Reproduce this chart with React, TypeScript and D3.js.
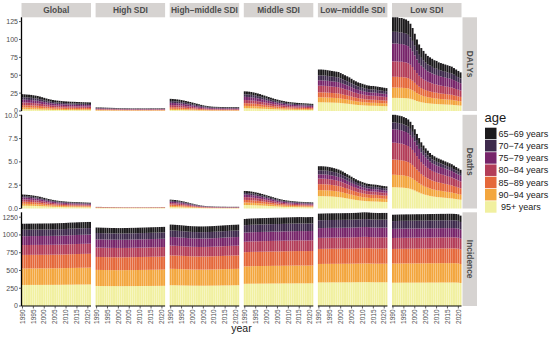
import React from 'react';
import * as d3 from 'd3';

// ---- data ----
const years = d3.range(1990, 2022);
const regions = ['Global', 'High SDI', 'High−middle SDI', 'Middle SDI', 'Low−middle SDI', 'Low SDI'];
const measures = ['DALYs', 'Deaths', 'Incidence'];
// legend order, top of stack first
const ageGroups = ['65−69 years', '70−74 years', '75−79 years', '80−84 years', '85−89 years', '90−94 years', ' 95+ years'];
const ageColors = ['#1c1a1c', '#3e2a4c', '#77256a', '#b33d58', '#e5683a', '#f3a63d', '#f1f0a0'];

// totals per year, one array per region
const dalys = [
  [23.5, 23.3, 23.0, 22.8, 22.5, 22.0, 21.5, 21.0, 20.2, 19.3, 18.4, 17.5, 16.7, 16.0, 15.4, 14.9, 14.5, 14.2, 13.9, 13.6, 13.4, 13.2, 13.0, 12.9, 12.8, 12.6, 12.5, 12.4, 12.3, 12.2, 12.1, 12.0],
  [5.0, 4.9, 4.9, 4.8, 4.7, 4.6, 4.5, 4.4, 4.3, 4.2, 4.1, 4.0, 3.9, 3.9, 3.8, 3.8, 3.7, 3.7, 3.7, 3.7, 3.7, 3.7, 3.7, 3.7, 3.7, 3.8, 3.8, 3.8, 3.8, 3.8, 3.9, 3.9],
  [17.0, 16.8, 16.5, 16.2, 15.8, 15.3, 14.7, 14.0, 13.3, 12.6, 11.8, 11.0, 10.2, 9.4, 8.6, 7.9, 7.3, 6.8, 6.4, 6.1, 5.9, 5.8, 5.7, 5.6, 5.6, 5.5, 5.5, 5.5, 5.5, 5.4, 5.4, 5.4],
  [27.5, 27.3, 27.0, 26.6, 26.0, 25.3, 24.5, 23.6, 22.6, 21.6, 20.6, 19.6, 18.6, 17.6, 16.7, 15.9, 15.1, 14.4, 13.8, 13.2, 12.7, 12.3, 12.0, 11.7, 11.4, 11.2, 11.0, 10.8, 10.6, 10.4, 10.2, 10.0],
  [58.0, 58.0, 57.8, 57.5, 57.0, 56.5, 56.0, 55.5, 55.0, 54.5, 53.0, 51.5, 50.0, 48.5, 47.0, 45.0, 43.0, 41.5, 40.0, 39.0, 38.0, 37.0, 36.0, 35.5, 35.0, 35.0, 34.5, 34.0, 33.5, 33.0, 32.5, 32.0],
  [131, 131, 131, 130, 130, 129, 128, 126, 122, 116, 108, 100, 93, 88, 84, 80, 77, 75, 73, 71, 70, 68, 67, 66, 65, 64, 63, 62, 60, 58, 56, 54],
];
const deaths = [
  [1.50, 1.49, 1.47, 1.45, 1.42, 1.39, 1.35, 1.31, 1.26, 1.20, 1.14, 1.08, 1.02, 0.97, 0.92, 0.88, 0.84, 0.81, 0.78, 0.76, 0.74, 0.72, 0.71, 0.70, 0.69, 0.68, 0.67, 0.66, 0.65, 0.64, 0.63, 0.62],
  [0.17, 0.17, 0.17, 0.16, 0.16, 0.16, 0.15, 0.15, 0.15, 0.14, 0.14, 0.14, 0.13, 0.13, 0.13, 0.13, 0.13, 0.13, 0.13, 0.13, 0.13, 0.13, 0.13, 0.13, 0.13, 0.14, 0.14, 0.14, 0.14, 0.14, 0.15, 0.15],
  [0.95, 0.93, 0.91, 0.88, 0.84, 0.80, 0.75, 0.70, 0.64, 0.58, 0.52, 0.46, 0.41, 0.36, 0.32, 0.29, 0.26, 0.24, 0.23, 0.22, 0.21, 0.20, 0.20, 0.19, 0.19, 0.19, 0.18, 0.18, 0.18, 0.18, 0.18, 0.18],
  [1.88, 1.87, 1.85, 1.82, 1.78, 1.73, 1.68, 1.62, 1.56, 1.49, 1.42, 1.35, 1.28, 1.21, 1.14, 1.07, 1.01, 0.96, 0.91, 0.87, 0.84, 0.81, 0.78, 0.76, 0.74, 0.72, 0.71, 0.70, 0.68, 0.67, 0.66, 0.65],
  [4.58, 4.58, 4.57, 4.55, 4.52, 4.48, 4.43, 4.37, 4.30, 4.22, 4.12, 4.00, 3.86, 3.72, 3.58, 3.44, 3.30, 3.17, 3.05, 2.95, 2.86, 2.78, 2.70, 2.66, 2.62, 2.60, 2.58, 2.55, 2.50, 2.46, 2.43, 2.40],
  [10.05, 10.05, 10.0, 9.95, 9.9, 9.8, 9.7, 9.55, 9.3, 8.95, 8.5, 8.0, 7.55, 7.1, 6.75, 6.45, 6.2, 5.95, 5.75, 5.6, 5.45, 5.35, 5.25, 5.15, 5.05, 4.95, 4.85, 4.75, 4.6, 4.45, 4.3, 4.15],
];
const incidence = [
  [1158, 1158, 1159, 1159, 1160, 1160, 1160, 1161, 1161, 1161, 1162, 1162, 1162, 1163, 1163, 1164, 1165, 1166, 1167, 1168, 1170, 1172, 1174, 1175, 1176, 1178, 1179, 1180, 1181, 1182, 1183, 1183],
  [1105, 1104, 1103, 1102, 1101, 1100, 1099, 1098, 1098, 1097, 1097, 1097, 1097, 1098, 1098, 1099, 1100, 1100, 1101, 1102, 1103, 1104, 1105, 1106, 1107, 1108, 1109, 1110, 1111, 1112, 1113, 1114],
  [1146, 1145, 1143, 1141, 1139, 1136, 1133, 1130, 1127, 1125, 1123, 1122, 1121, 1120, 1120, 1120, 1121, 1122, 1123, 1124, 1126, 1128, 1130, 1132, 1134, 1136, 1138, 1140, 1142, 1143, 1144, 1146],
  [1225, 1228, 1230, 1232, 1233, 1234, 1235, 1236, 1237, 1238, 1239, 1240, 1241, 1242, 1243, 1244, 1244, 1245, 1246, 1247, 1248, 1249, 1250, 1250, 1251, 1252, 1252, 1251, 1250, 1251, 1252, 1253],
  [1300, 1301, 1302, 1303, 1304, 1304, 1305, 1305, 1306, 1306, 1306, 1307, 1307, 1308, 1308, 1309, 1310, 1311, 1313, 1315, 1318, 1319, 1318, 1316, 1313, 1311, 1310, 1309, 1309, 1310, 1310, 1310],
  [1285, 1286, 1287, 1288, 1289, 1289, 1290, 1290, 1290, 1291, 1291, 1292, 1292, 1292, 1293, 1293, 1294, 1294, 1295, 1295, 1296, 1296, 1297, 1297, 1297, 1298, 1298, 1298, 1297, 1295, 1290, 1272],
];

// age shares per region, same order as ageGroups (65-69 first)
const dalysShare = [
  [0.18, 0.14, 0.17, 0.16, 0.14, 0.11, 0.10],
  [0.15, 0.12, 0.15, 0.16, 0.16, 0.14, 0.12],
  [0.18, 0.15, 0.18, 0.17, 0.14, 0.10, 0.08],
  [0.15, 0.13, 0.16, 0.16, 0.14, 0.12, 0.14],
  [0.14, 0.12, 0.13, 0.16, 0.12, 0.12, 0.21],
  [0.155, 0.125, 0.19, 0.165, 0.115, 0.11, 0.14],
];
const deathsShare = [
  [0.11, 0.10, 0.14, 0.16, 0.15, 0.14, 0.20],
  [0.03, 0.03, 0.07, 0.12, 0.20, 0.25, 0.30],
  [0.12, 0.11, 0.15, 0.17, 0.16, 0.14, 0.15],
  [0.11, 0.10, 0.14, 0.16, 0.15, 0.14, 0.20],
  [0.095, 0.095, 0.10, 0.13, 0.14, 0.14, 0.29],
  [0.082, 0.072, 0.144, 0.18, 0.162, 0.133, 0.227],
];
const incidenceShare = [
  [0.073, 0.078, 0.108, 0.12, 0.165, 0.2, 0.256],
  [0.07, 0.08, 0.105, 0.12, 0.165, 0.205, 0.255],
  [0.072, 0.08, 0.106, 0.12, 0.165, 0.202, 0.255],
  [0.072, 0.085, 0.105, 0.12, 0.163, 0.2, 0.255],
  [0.072, 0.085, 0.105, 0.12, 0.163, 0.2, 0.255],
  [0.07, 0.085, 0.10, 0.12, 0.16, 0.21, 0.255],
];

const yTickValues = [
  [0, 25, 50, 75, 100, 125],
  [0, 2.5, 5, 7.5, 10],
  [0, 250, 500, 750, 1000, 1250],
];
const yTickFormats = [d3.format('d'), d3.format('.1f'), d3.format('d')];
const xTickValues = [1990, 1995, 2000, 2005, 2010, 2015, 2020];

const totalsByMeasure = [dalys, deaths, incidence];
const sharesByMeasure = [dalysShare, deathsShare, incidenceShare];

// ---- layout ----
const W = 550, H = 338;
const panelX0 = 21.5, panelW = 69.5, colStep = 74.1;
const rowY0 = [17.3, 114.8, 212.3], panelH = 93.7;
const stripH = 14.3;
const font = "'Liberation Sans', Arial, Helvetica, sans-serif";
const stackKeys = ageGroups.slice().reverse();

const Panel = ({ r, c, y }) => {
  const x0 = panelX0 + c * colStep;
  const x = d3.scaleBand<number>().domain(years).range([x0, x0 + panelW]).paddingInner(0.1);
  const totals = totalsByMeasure[r][c];
  const share = sharesByMeasure[r][c];
  const table = years.map((yr, i) => {
    const row: any = { year: yr };
    ageGroups.forEach((a, k) => { row[a] = totals[i] * share[k]; });
    return row;
  });
  const series = d3.stack().keys(stackKeys)(table);
  return (
    <g>
      {series.map((s) => (
        <g key={s.key} fill={ageColors[ageGroups.indexOf(s.key)]}>
          {s.map((d: any) => (
            <rect key={d.data.year} x={x(d.data.year)} width={x.bandwidth()}
              y={y(d[1])} height={Math.max(0, y(d[0]) - y(d[1]))} />
          ))}
        </g>
      ))}
      {r === 2 && (
        <g>
          <line x1={x0} x2={x0 + panelW} y1={rowY0[2] + panelH} y2={rowY0[2] + panelH} stroke="#000" strokeWidth={1.1} />
          {xTickValues.map((t) => {
            const cx = (x(t) as number) + x.bandwidth() / 2;
            const by = rowY0[2] + panelH;
            return (
              <g key={t}>
                <line x1={cx} x2={cx} y1={by} y2={by + 2.5} stroke="#333" strokeWidth={0.8} />
                <text transform={`translate(${cx + 2.2},${by + 3.5}) rotate(-90)`} textAnchor="end"
                  fontSize={6.5} fill="#4d4d4d" fontFamily={font}>{t}</text>
              </g>
            );
          })}
        </g>
      )}
    </g>
  );
};

export default function App() {
  const yScales = measures.map((m, r) => {
    const max = d3.max(totalsByMeasure[r].flat()) as number;
    return d3.scaleLinear().domain([0, max]).range([rowY0[r] + panelH, rowY0[r]]);
  });

  return (
    <svg width={W} height={H} style={{ position: 'absolute', left: 0, top: 0, background: '#fff' }}>
      {/* column strips */}
      {regions.map((name, c) => {
        const x0 = panelX0 + c * colStep;
        return (
          <g key={name}>
            <rect x={x0} y={rowY0[0] - stripH} width={panelW} height={stripH} fill="#d6d3d1" />
            <text x={x0 + panelW / 2} y={rowY0[0] - stripH / 2} dy="0.35em" textAnchor="middle"
              fontSize={8.4} fontWeight="bold" fill="#4d4d4d" fontFamily={font}>{name}</text>
          </g>
        );
      })}

      {measures.map((m, r) => {
        const y = yScales[r];
        const sx = panelX0 + 5 * colStep + panelW + 1;
        return (
          <g key={m}>
            {regions.map((_, c) => <Panel key={c} r={r} c={c} y={y} />)}
            {/* row strip */}
            <rect x={sx} y={rowY0[r]} width={14.5} height={panelH} fill="#d6d3d1" />
            <text transform={`translate(${sx + 7.25},${rowY0[r] + panelH / 2}) rotate(90)`} dy="0.35em"
              textAnchor="middle" fontSize={8.4} fontWeight="bold" fill="#4d4d4d" fontFamily={font}>{m}</text>
            {/* left axis */}
            <line x1={panelX0} x2={panelX0} y1={rowY0[r]} y2={rowY0[r] + panelH} stroke="#000" strokeWidth={1.3} />
            {yTickValues[r].map((t) => (
              <g key={t}>
                <line x1={panelX0 - 2.5} x2={panelX0} y1={y(t)} y2={y(t)} stroke="#333" strokeWidth={0.8} />
                <text x={panelX0 - 3.5} y={y(t)} dy="0.35em" textAnchor="end" fontSize={7}
                  fill="#4d4d4d" fontFamily={font}>{yTickFormats[r](t)}</text>
              </g>
            ))}
          </g>
        );
      })}

      {/* x axis title */}
      <text x={panelX0 + (5 * colStep + panelW) / 2} y={331.5} textAnchor="middle" fontSize={10.5}
        fill="#1a1a1a" fontFamily={font}>year</text>

      {/* legend */}
      <g fontFamily={font}>
        <text x={484.5} y={122} fontSize={13} fill="#1a1a1a">age</text>
        {ageGroups.map((a, i) => (
          <g key={a} transform={`translate(485,${127.7 + i * 12.25})`}>
            <rect width={11.5} height={11.5} fill={ageColors[i]} />
            <text x={13.5} y={5.9} dy="0.35em" fontSize={9} fill="#1a1a1a" style={{ whiteSpace: 'pre' }}>{a}</text>
          </g>
        ))}
      </g>
    </svg>
  );
}
